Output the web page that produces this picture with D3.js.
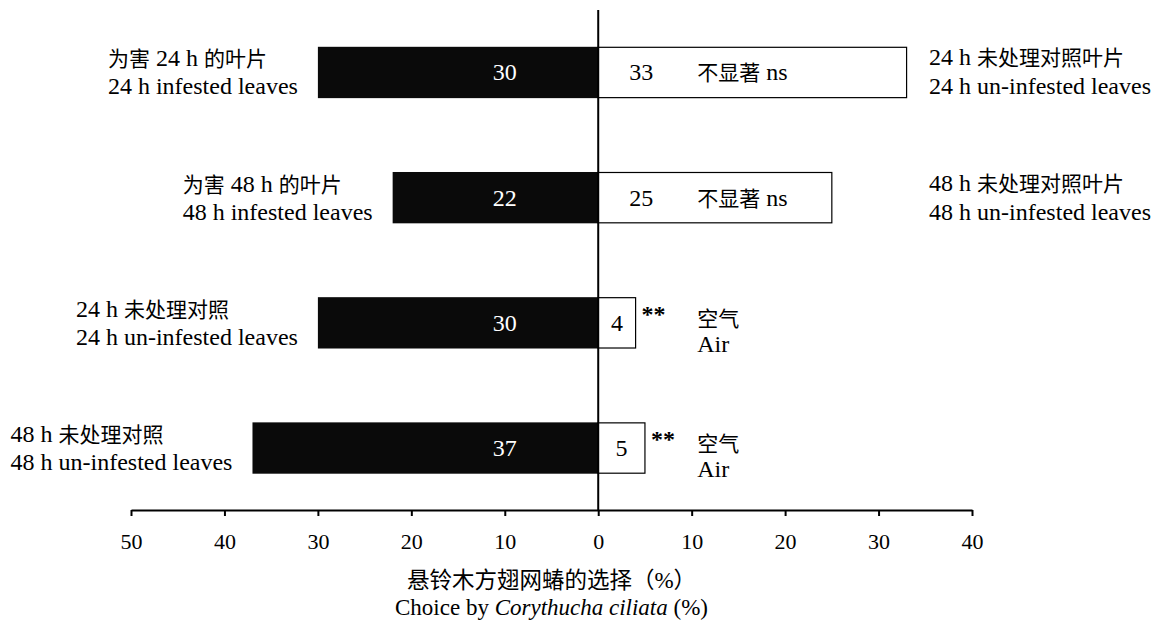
<!DOCTYPE html>
<html>
<head>
<meta charset="utf-8">
<script src="https://cdn.jsdelivr.net/npm/d3@7"></script>
<style>
  html, body { margin: 0; padding: 0; background: #fff; }
  svg { display: block; }
  text { font-family: "Liberation Serif", "Times New Roman", "Noto Sans CJK SC", serif; fill: #000; }
</style>
</head>
<body>
<svg id="chart" width="1153" height="621"></svg>
<script>
// Two-choice olfactometer results: left side = option A, right side = option B
const leftLabelsZh = ["为害 24 h 的叶片", "为害 48 h 的叶片", "24 h 未处理对照", "48 h 未处理对照"];
const leftLabelsEn = ["24 h infested leaves", "48 h infested leaves", "24 h un-infested leaves", "48 h un-infested leaves"];
const leftValues = [30, 22, 30, 37];
const rightValues = [33, 25, 4, 5];
const rightLabelsZh = ["24 h 未处理对照叶片", "48 h 未处理对照叶片", "空气", "空气"];
const rightLabelsEn = ["24 h un-infested leaves", "48 h un-infested leaves", "Air", "Air"];
const significance = ["不显著 ns", "不显著 ns", "**", "**"];
const tickValues = [-50, -40, -30, -20, -10, 0, 10, 20, 30, 40];
const titleZh = "悬铃木方翅网蝽的选择（%）";

const W = 1153, H = 621;
const svg = d3.select("#chart");
const FS = 24;     // Latin text
const FS_CJK = 21; // Chinese text

// Write a string into a text element, giving CJK runs and Latin runs their own size
function mixed(sel, str, latin = FS, cjk = FS_CJK) {
  const runs = str.match(/[\u3000-\u9fff\uff00-\uffef]+|[^\u3000-\u9fff\uff00-\uffef]+/g) || [];
  runs.forEach(r => {
    const isCjk = /[\u3000-\u9fff\uff00-\uffef]/.test(r);
    sel.append("tspan")
      .style("font-size", (isCjk ? cjk : latin) + "px")
      .style("font-family", isCjk ? "\"Noto Sans CJK SC\", sans-serif" : "\"Liberation Serif\", serif")
      .text(r);
  });
  return sel;
}

const x = d3.scaleLinear().domain([-50, 40]).range([131, 972]);
const rows = d3.range(leftValues.length);
const y = d3.scaleBand().domain(rows).range([10.5, 510]).paddingInner(0.59).paddingOuter(0.29);
const bh = y.bandwidth();
const cy = i => y(i) + bh / 2;

// left (black) bars
svg.append("g").selectAll("rect").data(rows).join("rect")
  .attr("x", i => x(-leftValues[i]))
  .attr("y", i => y(i))
  .attr("width", i => x(0) - x(-leftValues[i]))
  .attr("height", bh)
  .attr("fill", "#0a0a0a");

// right (white) bars
svg.append("g").selectAll("rect").data(rows).join("rect")
  .attr("x", x(0))
  .attr("y", i => y(i) + 0.5)
  .attr("width", i => x(rightValues[i]) - x(0))
  .attr("height", bh - 1)
  .attr("fill", "#fff")
  .attr("stroke", "#000")
  .attr("stroke-width", 1.2);

// values inside black bars
svg.append("g").selectAll("text").data(rows).join("text")
  .attr("x", x(-10))
  .attr("y", i => cy(i) + 8)
  .attr("text-anchor", "middle")
  .style("font-size", FS + "px")
  .style("fill", "#fff")
  .text(i => leftValues[i]);

// values in white bars
svg.append("g").selectAll("text").data(rows).join("text")
  .attr("x", i => rightValues[i] > 10 ? x(4.6) : (x(0) + x(rightValues[i])) / 2)
  .attr("y", i => cy(i) + 8)
  .attr("text-anchor", "middle")
  .style("font-size", FS + "px")
  .text(i => rightValues[i]);

// significance marks
svg.append("g").selectAll("text").data(rows).join("text")
  .attr("x", i => significance[i] === "**" ? x(rightValues[i]) + 6 : x(10.6))
  .attr("y", i => significance[i] === "**" ? cy(i) - 1 : cy(i) + 8)
  .style("font-weight", i => significance[i] === "**" ? "bold" : null)
  .each(function (i) { mixed(d3.select(this), significance[i]); });

// left category labels: English line ends just before the bar; Chinese line shares its start
const leftG = svg.append("g");
rows.forEach(i => {
  const en = leftG.append("text")
    .attr("x", x(-leftValues[i]) - 20)
    .attr("y", cy(i) + 22)
    .attr("text-anchor", "end")
    .style("font-size", FS + "px")
    .text(leftLabelsEn[i]);
  const w = en.node().getComputedTextLength();
  mixed(leftG.append("text")
    .attr("x", x(-leftValues[i]) - 20 - w)
    .attr("y", cy(i) - 6), leftLabelsZh[i]);
});

// right category labels
const rightG = svg.append("g");
rows.forEach(i => {
  if (significance[i] === "**") {
    mixed(rightG.append("text").attr("x", x(10.6)).attr("y", cy(i) + 3), rightLabelsZh[i]);
    rightG.append("text").attr("x", x(10.6)).attr("y", cy(i) + 29)
      .style("font-size", FS + "px").text(rightLabelsEn[i]);
  } else {
    const en = rightG.append("text")
      .attr("x", W - 2)
      .attr("y", cy(i) + 22)
      .attr("text-anchor", "end")
      .style("font-size", FS + "px")
      .text(rightLabelsEn[i]);
    const w = en.node().getComputedTextLength();
    mixed(rightG.append("text")
      .attr("x", W - 2 - w)
      .attr("y", cy(i) - 7), rightLabelsZh[i]);
  }
});

// central divider
svg.append("line")
  .attr("x1", x(0)).attr("x2", x(0))
  .attr("y1", 10).attr("y2", 510)
  .attr("stroke", "#000").attr("stroke-width", 2);

// bottom axis
const axis = svg.append("g")
  .attr("transform", "translate(0,510)")
  .call(d3.axisBottom(x).tickValues(tickValues).tickFormat(d => Math.abs(d))
    .tickSize(6).tickSizeOuter(0).tickPadding(17));
axis.select(".domain").attr("stroke-width", 2).attr("stroke", "#000");
axis.selectAll(".tick line").attr("stroke-width", 2).attr("stroke", "#000");
axis.selectAll(".tick text")
  .style("font-size", "22px")
  .style("font-family", "\"Liberation Serif\", serif")
  .attr("fill", "#000");

// axis title
const cx = (x(-50) + x(40)) / 2;
mixed(svg.append("text").attr("x", cx).attr("y", 588).attr("text-anchor", "middle"), titleZh, 23, 22.5);
const t2 = svg.append("text").attr("x", cx).attr("y", 615).attr("text-anchor", "middle")
  .style("font-size", "23px");
t2.append("tspan").text("Choice by ");
t2.append("tspan").style("font-style", "italic").text("Corythucha ciliata");
t2.append("tspan").text(" (%)");
</script>
</body>
</html>
